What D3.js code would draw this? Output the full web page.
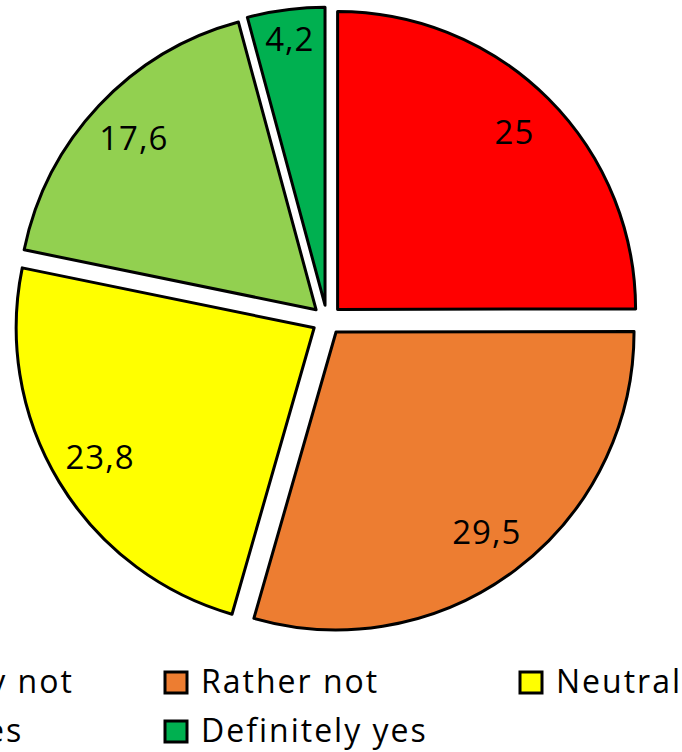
<!DOCTYPE html>
<html>
<head>
<meta charset="utf-8">
<script src="https://cdn.jsdelivr.net/npm/d3@7"></script>
<style>
  body { margin: 0; background: #fff; }
  svg { display: block; }
</style>
</head>
<body>
<div id="chart"></div>
<script>
// data
var categories = ["Definitely not", "Rather not", "Neutral", "Rather yes", "Definitely yes"];
var values = [25, 29.5, 23.8, 17.6, 4.2];
var labels = ["25", "29,5", "23,8", "17,6", "4,2"];
var colors = ["#FF0000", "#ED7D31", "#FFFF00", "#92D050", "#00B050"];

var svgWidth = 682;
var svgHeight = 752;

var cx = 327, cy = 320;
var radius = 298;
var explode = 15;

var svg = d3.select("#chart")
  .append("svg")
  .attr("width", svgWidth)
  .attr("height", svgHeight);

var pie = d3.pie().sort(null).value(d => d);
var arcs = pie(values);

var arc = d3.arc().innerRadius(0).outerRadius(radius);

var pieGroup = svg.append("g")
  .attr("transform", `translate(${cx}, ${cy})`);

// each slice pulled out along its bisector
var slices = pieGroup.selectAll("g.slice")
  .data(arcs)
  .enter()
  .append("g")
  .attr("class", "slice")
  .attr("transform", function(d) {
    var mid = (d.startAngle + d.endAngle) / 2;
    return `translate(${Math.sin(mid) * explode}, ${-Math.cos(mid) * explode})`;
  });

slices.append("path")
  .attr("d", arc)
  .attr("fill", (d, i) => colors[i])
  .attr("stroke", "#000")
  .attr("stroke-width", 3)
  .attr("stroke-linejoin", "round");

// labels inside slices
slices.append("text")
  .attr("transform", function(d) {
    var mid = (d.startAngle + d.endAngle) / 2;
    var lr = (d.endAngle - d.startAngle) < 0.3 ? radius * 0.9 : radius * 0.84;
    return `translate(${Math.sin(mid) * lr}, ${-Math.cos(mid) * lr})`;
  })
  .attr("text-anchor", "middle")
  .attr("dy", "0.36em")
  .attr("font-family", "'Open Sans', sans-serif")
  .attr("font-size", 33)
  .attr("letter-spacing", 1)
  .attr("fill", "#000")
  .text((d, i) => labels[i]);

// legend, 3 columns, wraps to a second row
var legendCols = [-192, 163, 518];
var legendRows = [681, 730];

var legend = svg.selectAll("g.legend")
  .data(categories)
  .enter()
  .append("g")
  .attr("class", "legend")
  .attr("transform", (d, i) => `translate(${legendCols[i % 3]}, ${legendRows[Math.floor(i / 3)]})`);

legend.append("rect")
  .attr("x", 2)
  .attr("y", -9)
  .attr("width", 22)
  .attr("height", 21)
  .attr("fill", (d, i) => colors[i])
  .attr("stroke", "#000")
  .attr("stroke-width", 3);

legend.append("text")
  .attr("x", 38)
  .attr("dy", "0.36em")
  .attr("font-family", "'Open Sans', sans-serif")
  .attr("font-size", 32)
  .attr("letter-spacing", 2)
  .attr("fill", "#000")
  .text(d => d);
</script>
</body>
</html>
